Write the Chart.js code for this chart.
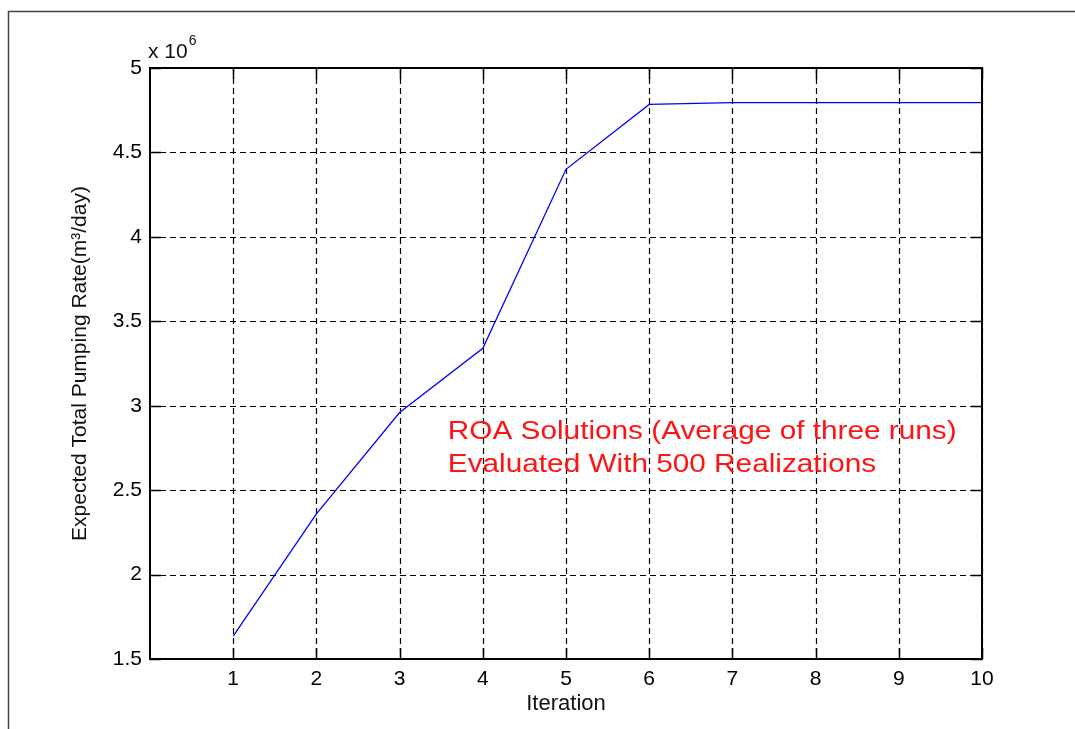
<!DOCTYPE html>
<html>
<head>
<meta charset="utf-8">
<script src="https://cdn.jsdelivr.net/npm/chart.js@4/dist/chart.umd.min.js"></script>
<style>
  html, body { margin: 0; padding: 0; background: #fff; }
  #wrap { width: 1075px; height: 729px; position: relative; }
</style>
</head>
<body>
<div id="wrap"><canvas id="myChart" width="1075" height="729"></canvas></div>
<script>
var iterations = [1, 2, 3, 4, 5, 6, 7, 8, 9, 10];
var pumpingRate = [1.635e6, 2.36e6, 2.96e6, 3.34e6, 4.40e6, 4.784e6, 4.795e6, 4.795e6, 4.795e6, 4.795e6];
var xTicks = [1, 2, 3, 4, 5, 6, 7, 8, 9, 10];
var yTicks = [1.5, 2, 2.5, 3, 3.5, 4, 4.5, 5];
var noteLines = ["ROA Solutions (Average of three runs)", "Evaluated With 500 Realizations"];

var FONT = "'Liberation Sans', Arial, sans-serif";

// grid, box, inner ticks, exponent label, note text
var matlabAxes = {
  id: "matlabAxes",
  beforeDatasetsDraw: function (chart) {
    var ctx = chart.ctx, a = chart.chartArea;
    var xs = chart.scales.x, ys = chart.scales.y;
    ctx.save();
    // outer figure frame
    ctx.strokeStyle = "#444";
    ctx.lineWidth = 1.5;
    ctx.beginPath();
    ctx.moveTo(8.5, 729);
    ctx.lineTo(8.5, 11.5);
    ctx.lineTo(1075, 11.5);
    ctx.stroke();

    ctx.strokeStyle = "#000";
    ctx.lineWidth = 1.2;
    ctx.setLineDash([6, 4]);
    ctx.beginPath();
    xTicks.forEach(function (v) {
      var px = Math.round(xs.getPixelForValue(v)) + 0.5;
      ctx.moveTo(px, a.top);
      ctx.lineTo(px, a.bottom);
    });
    yTicks.forEach(function (v) {
      var py = Math.round(ys.getPixelForValue(v * 1e6)) + 0.5;
      ctx.moveTo(a.left, py);
      ctx.lineTo(a.right, py);
    });
    ctx.stroke();
    ctx.restore();
  },
  afterDatasetsDraw: function (chart) {
    var ctx = chart.ctx, a = chart.chartArea;
    var xs = chart.scales.x, ys = chart.scales.y;
    var t = 11;
    ctx.save();
    ctx.strokeStyle = "#000";
    ctx.lineWidth = 1.5;
    ctx.beginPath();
    xTicks.forEach(function (v) {
      var px = Math.round(xs.getPixelForValue(v)) + 0.5;
      ctx.moveTo(px, a.bottom); ctx.lineTo(px, a.bottom - t);
      ctx.moveTo(px, a.top); ctx.lineTo(px, a.top + t);
    });
    yTicks.forEach(function (v) {
      var py = Math.round(ys.getPixelForValue(v * 1e6)) + 0.5;
      ctx.moveTo(a.left, py); ctx.lineTo(a.left + t, py);
      ctx.moveTo(a.right, py); ctx.lineTo(a.right - t, py);
    });
    ctx.stroke();
    ctx.lineWidth = 2;
    ctx.strokeRect(a.left, a.top, a.right - a.left, a.bottom - a.top);

    // exponent
    ctx.fillStyle = "#111";
    ctx.textBaseline = "alphabetic";
    ctx.textAlign = "left";
    ctx.font = "21px " + FONT;
    ctx.fillText("x 10", a.left - 2, a.top - 10);
    var w = ctx.measureText("x 10").width;
    ctx.font = "14px " + FONT;
    ctx.fillText("6", a.left - 1 + w, a.top - 23);

    // note
    ctx.fillStyle = "#ff1414";
    ctx.font = "25px " + FONT;
    var nx = xs.getPixelForValue(3.58);
    var ny = ys.getPixelForValue(2.80e6);
    noteLines.forEach(function (s, i) {
      ctx.save();
      ctx.translate(nx, ny + i * 33);
      ctx.scale(1.19, 1);
      ctx.fillText(s, 0, 0);
      ctx.restore();
    });
    ctx.restore();
  }
};

new Chart("myChart", {
  type: "line",
  data: {
    datasets: [{
      data: iterations.map(function (x, i) { return { x: x, y: pumpingRate[i] }; }),
      borderColor: "rgb(0, 0, 255)",
      borderWidth: 1.3,
      pointRadius: 0,
      tension: 0,
      fill: false
    }]
  },
  options: {
    responsive: false,
    animation: false,
    layout: { padding: { top: 68, right: 93, left: 0, bottom: 0 } },
    plugins: { legend: { display: false }, tooltip: { enabled: false } },
    scales: {
      x: {
        type: "linear",
        min: 0,
        max: 10,
        afterFit: function (s) { s.height = 70; },
        afterBuildTicks: function (s) { s.ticks = xTicks.map(function (v) { return { value: v }; }); },
        grid: { display: false, drawTicks: false },
        border: { display: false },
        ticks: {
          padding: 8,
          color: "#000",
          font: { family: FONT, size: 21 },
          maxRotation: 0,
          callback: function (v) { return String(v); }
        },
        title: {
          display: true,
          text: "Iteration",
          color: "#111",
          font: { family: FONT, size: 22 },
          padding: { bottom: 12, top: 0 }
        }
      },
      y: {
        type: "linear",
        min: 1.5e6,
        max: 5e6,
        afterFit: function (s) { s.width = 150; },
        afterBuildTicks: function (s) { s.ticks = yTicks.map(function (v) { return { value: v * 1e6 }; }); },
        grid: { display: false, drawTicks: false },
        border: { display: false },
        ticks: {
          padding: 8,
          color: "#000",
          font: { family: FONT, size: 21 },
          callback: function (v) { return String(v / 1e6); }
        },
        title: {
          display: true,
          text: "Expected Total Pumping Rate(m³/day)",
          color: "#111",
          font: { family: FONT, size: 21 },
          padding: { top: 68, bottom: 0 }
        }
      }
    }
  },
  plugins: [matlabAxes]
});
</script>
</body>
</html>
